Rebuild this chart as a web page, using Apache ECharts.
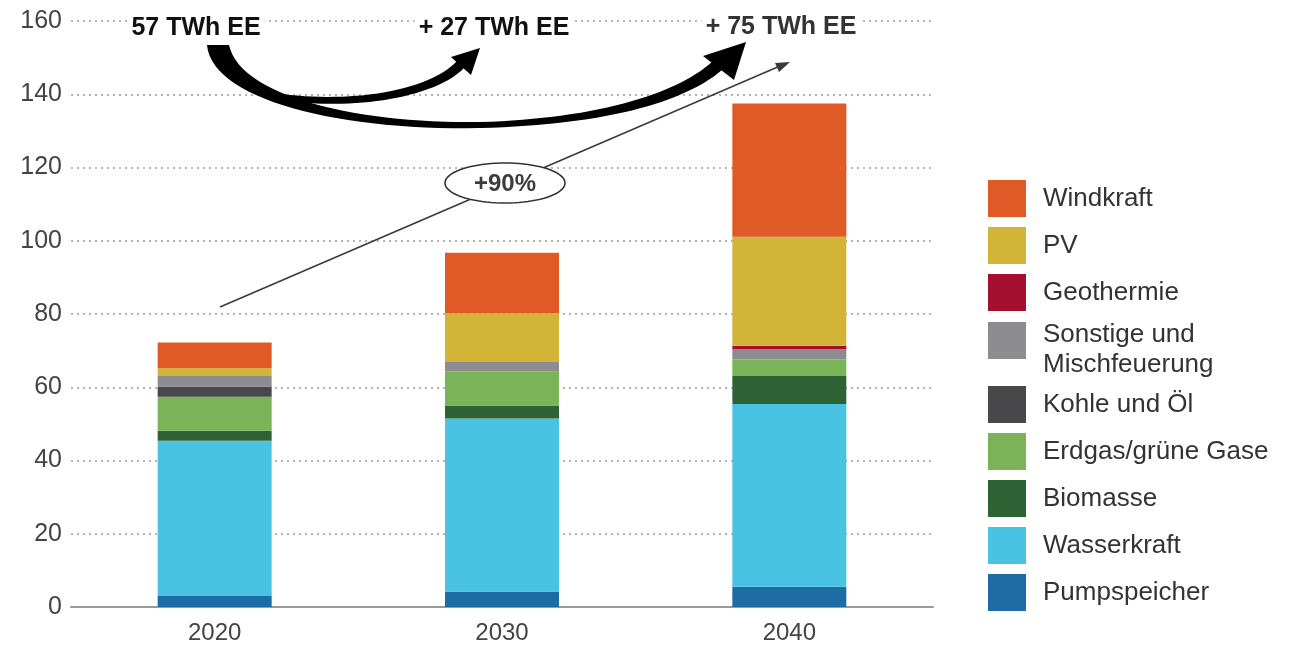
<!DOCTYPE html>
<html>
<head>
<meta charset="utf-8">
<script src="https://cdn.jsdelivr.net/npm/echarts@6/dist/echarts.min.js"></script>
<style>
  html, body { margin: 0; padding: 0; background: #fff; }
  #chart { width: 1296px; height: 651px; }
</style>
</head>
<body>
<div id="chart"></div>
<script>
// Stromerzeugung nach Energieträger (TWh)
const years = ['2020', '2030', '2040'];
const yTicks = [0, 20, 40, 60, 80, 100, 120, 140, 160];

const pumpspeicher = [3.0, 4.2, 5.5];
const wasserkraft  = [42.4, 47.3, 49.9];
const biomasse     = [2.7, 3.5, 7.7];
const erdgas       = [9.3, 9.4, 4.5];
const kohleOel     = [2.8, 0, 0];
const sonstige     = [2.9, 2.5, 2.8];
const geothermie   = [0, 0, 0.9];
const pv           = [2.1, 13.3, 29.8];
const windkraft    = [7.0, 16.5, 36.4];

const annotTexts = ['57 TWh EE', '+ 27 TWh EE', '+ 75 TWh EE'];
const growthLabel = '+90%';

const FONT = '"Liberation Sans", Arial, Helvetica, sans-serif';

// stacking order bottom -> top
const stackDefs = [
  { name: 'Pumpspeicher', data: pumpspeicher, color: '#1E6CA6' },
  { name: 'Wasserkraft', data: wasserkraft, color: '#4AC3E3' },
  { name: 'Biomasse', data: biomasse, color: '#2E6435' },
  { name: 'Erdgas/grüne Gase', data: erdgas, color: '#7BB358' },
  { name: 'Kohle und Öl', data: kohleOel, color: '#48474A' },
  { name: 'Sonstige und Mischfeuerung', data: sonstige, color: '#8D8C91' },
  { name: 'Geothermie', data: geothermie, color: '#A5102F' },
  { name: 'PV', data: pv, color: '#D2B537' },
  { name: 'Windkraft', data: windkraft, color: '#DF5A26' }
];

const series = stackDefs.map(d => ({
  name: d.name,
  type: 'bar',
  stack: 'total',
  data: d.data,
  barWidth: 114,
  itemStyle: { color: d.color },
  emphasis: { disabled: true }
}));

// helpers for annotation shapes
function cubic(p0, p1, p2, p3, n) {
  const pts = [];
  for (let i = 0; i <= n; i++) {
    const t = i / n, u = 1 - t;
    pts.push([
      u*u*u*p0[0] + 3*u*u*t*p1[0] + 3*u*t*t*p2[0] + t*t*t*p3[0],
      u*u*u*p0[1] + 3*u*u*t*p1[1] + 3*u*t*t*p2[1] + t*t*t*p3[1]
    ]);
  }
  return pts;
}
function chain(segs) {
  let out = [];
  segs.forEach((s, i) => {
    const pts = cubic(s[0], s[1], s[2], s[3], 30);
    out = out.concat(i === 0 ? pts : pts.slice(1));
  });
  return out;
}
function ellipsePts(cx, cy, rx, ry, n) {
  const pts = [];
  for (let i = 0; i < n; i++) {
    const a = 2 * Math.PI * i / n;
    pts.push([cx + rx * Math.cos(a), cy + ry * Math.sin(a)]);
  }
  return pts;
}

// long curved arrow (2020 -> 2040)
const bigBody = chain([
  [[207, 45], [212, 100], [340, 131], [480, 128]],
  [[480, 128], [600, 125], [682, 104], [722, 70]]
]).concat(chain([
  [[713, 61], [675, 96], [590, 119], [480, 122]],
  [[480, 122], [360, 124], [240, 97], [229, 45]]
]));
// short curved arrow (2020 -> 2030)
const smallBody = chain([
  [[286, 100], [340, 110], [432, 101], [464, 68]]
]).concat(chain([
  [[457, 61], [426, 94], [340, 104], [268, 92]]
]));

const legendText = { fontSize: 26, color: '#333', fontFamily: FONT, padding: [0, 0, 0, 12] };

const option = {
  backgroundColor: '#fff',
  animation: false,
  grid: { left: 71, right: 363, top: 21, bottom: 44 },
  xAxis: {
    type: 'category',
    data: years,
    axisTick: { show: false },
    axisLine: { lineStyle: { color: '#9a9a9a', width: 2 } },
    axisLabel: { color: '#444', fontSize: 24, fontFamily: FONT, margin: 14 }
  },
  yAxis: {
    type: 'value',
    min: yTicks[0],
    max: yTicks[yTicks.length - 1],
    interval: yTicks[1] - yTicks[0],
    axisLine: { show: false },
    axisTick: { show: false },
    axisLabel: { color: '#444', fontSize: 25, fontFamily: FONT, margin: 9 },
    splitLine: { lineStyle: { color: '#b5b5b5', type: [2, 4], width: 2 } }
  },
  legend: [
    {
      data: ['Windkraft', 'PV', 'Geothermie'],
      orient: 'vertical', left: 983, top: 175,
      itemWidth: 38, itemHeight: 37, itemGap: 10,
      icon: 'rect', selectedMode: false,
      textStyle: legendText
    },
    {
      data: ['Sonstige und Mischfeuerung'],
      formatter: () => '{a|Sonstige und}\n{b|Mischfeuerung}',
      orient: 'vertical', left: 983, top: 317,
      itemWidth: 38, itemHeight: 37,
      icon: 'rect', selectedMode: false,
      textStyle: Object.assign({}, legendText, {
        rich: {
          a: { fontSize: 26, color: '#333', fontFamily: FONT, lineHeight: 49 },
          b: { fontSize: 26, color: '#333', fontFamily: FONT, lineHeight: 11 }
        }
      })
    },
    {
      data: ['Kohle und Öl', 'Erdgas/grüne Gase', 'Biomasse', 'Wasserkraft', 'Pumpspeicher'],
      orient: 'vertical', left: 983, top: 381,
      itemWidth: 38, itemHeight: 37, itemGap: 10,
      icon: 'rect', selectedMode: false,
      textStyle: legendText
    }
  ],
  series: series,
  graphic: [
    // thin growth arrow
    { type: 'line', z: 50, shape: { x1: 220, y1: 307, x2: 780, y2: 66 },
      style: { stroke: '#3a3a3a', lineWidth: 1.6 } },
    { type: 'polygon', z: 50, shape: { points: [[790, 62], [775, 63], [779, 72]] },
      style: { fill: '#3a3a3a' } },
    { type: 'polygon', z: 51, shape: { points: ellipsePts(505, 183, 60, 20, 80) },
      style: { fill: '#fff', stroke: '#333', lineWidth: 1.6 } },
    { type: 'text', z: 52, x: 505, y: 184,
      style: { text: growthLabel, fill: '#3c3c3c', font: 'bold 24px ' + FONT,
               textAlign: 'center', textVerticalAlign: 'middle' } },
    // curved arrows
    { type: 'polygon', z: 60, shape: { points: bigBody }, style: { fill: '#000' } },
    { type: 'polygon', z: 60, shape: { points: [[703, 56], [746, 42], [734, 80]] }, style: { fill: '#000' } },
    { type: 'polygon', z: 60, shape: { points: smallBody }, style: { fill: '#000' } },
    { type: 'polygon', z: 60, shape: { points: [[451, 57], [480, 48], [471, 75]] }, style: { fill: '#000' } },
    // annotation texts
    { type: 'text', z: 70, x: 196, y: 28,
      style: { text: annotTexts[0], fill: '#111', font: 'bold 25px ' + FONT,
               textAlign: 'center', textVerticalAlign: 'middle', backgroundColor: '#fff', padding: [2, 4] } },
    { type: 'text', z: 70, x: 494, y: 28,
      style: { text: annotTexts[1], fill: '#111', font: 'bold 25px ' + FONT,
               textAlign: 'center', textVerticalAlign: 'middle', backgroundColor: '#fff', padding: [2, 4] } },
    { type: 'text', z: 70, x: 781, y: 27,
      style: { text: annotTexts[2], fill: '#333', font: 'bold 25px ' + FONT,
               textAlign: 'center', textVerticalAlign: 'middle', backgroundColor: '#fff', padding: [2, 4] } }
  ]
};

const chart = echarts.init(document.getElementById('chart'), null, { renderer: 'canvas' });
chart.setOption(option);
</script>
</body>
</html>
